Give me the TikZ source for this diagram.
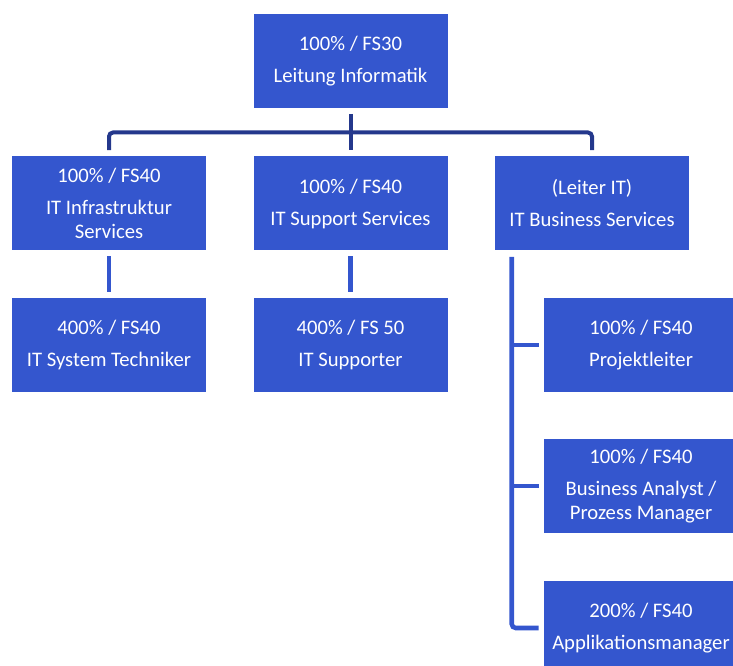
\documentclass[tikz,border=0pt]{standalone}
\usepackage{fontspec}
\setmainfont{Carlito}
\usetikzlibrary{positioning,calc}
\definecolor{unitblue}{RGB}{52,86,206}
\definecolor{busnavy}{RGB}{36,56,140}

\begin{document}
\begin{tikzpicture}[x=0.75pt,y=-0.75pt,
		unit/.style={fill=unitblue, text=white, inner sep=0pt, align=center,
			minimum width=145.5pt, minimum height=70.5pt,
			font=\fontsize{15.5}{17.5}\selectfont},
		link/.style={draw=unitblue, line width=3.4pt},
		bus/.style={draw=busnavy, line width=3pt}]
		\useasboundingbox (0,0) rectangle (733,666);

		% boxes
		\node[unit] (top) at (350.5,61.5) {100\% / FS30\\[6.5pt]Leitung Informatik};

		\node[unit] (infra) at (109,203.5) {100\% / FS40\\[6.5pt]IT Infrastruktur\\Services};
		\node[unit] (support) at (350.5,203.5) {100\% / FS40\\[6.5pt]IT Support Services};
		\node[unit] (business) at (592,203.5) {(Leiter IT)\\[6.5pt]IT Business Services};

		\node[unit] (techniker) at (109,345) {400\% / FS40\\[6.5pt]IT System Techniker};
		\node[unit] (supporter) at (350.5,345) {400\% / FS 50\\[6.5pt]IT Supporter};

		\node[unit] (projekt) at (641,345) {100\% / FS40\\[6.5pt]Projektleiter};
		\node[unit] (analyst) at (641,486) {100\% / FS40\\[6.5pt]Business Analyst /\\Prozess Manager};
		\node[unit] (appl) at (641,628) {200\% / FS40\\[6.5pt]Applikationsmanager};

		% top level bus
		\coordinate (busmid) at ($(top.south)!0.5!(support.north)$);
		\draw[bus] ([yshift=-3.75pt]top.south) -- ([yshift=4.5pt]support.north);
		\draw[bus, rounded corners=3pt] ([yshift=4.5pt]infra.north) |- (busmid)
			-| ([yshift=4.5pt]business.north);

		% second level
		\draw[link, shorten <=4pt, shorten >=4pt] (infra) -- (techniker);
		\draw[link, shorten <=4pt, shorten >=4pt] (support) -- (supporter);

		% right column
		\coordinate (spine) at ([xshift=12.75pt,yshift=-4.5pt]business.south west);
		\draw[link, rounded corners=3pt] (spine) |- ([xshift=-3.75pt]appl.west);
		\draw[link] (spine |- projekt.west) -- ([xshift=-3.75pt]projekt.west);
		\draw[link] (spine |- analyst.west) -- ([xshift=-3.75pt]analyst.west);
	\end{tikzpicture}
\end{document}
